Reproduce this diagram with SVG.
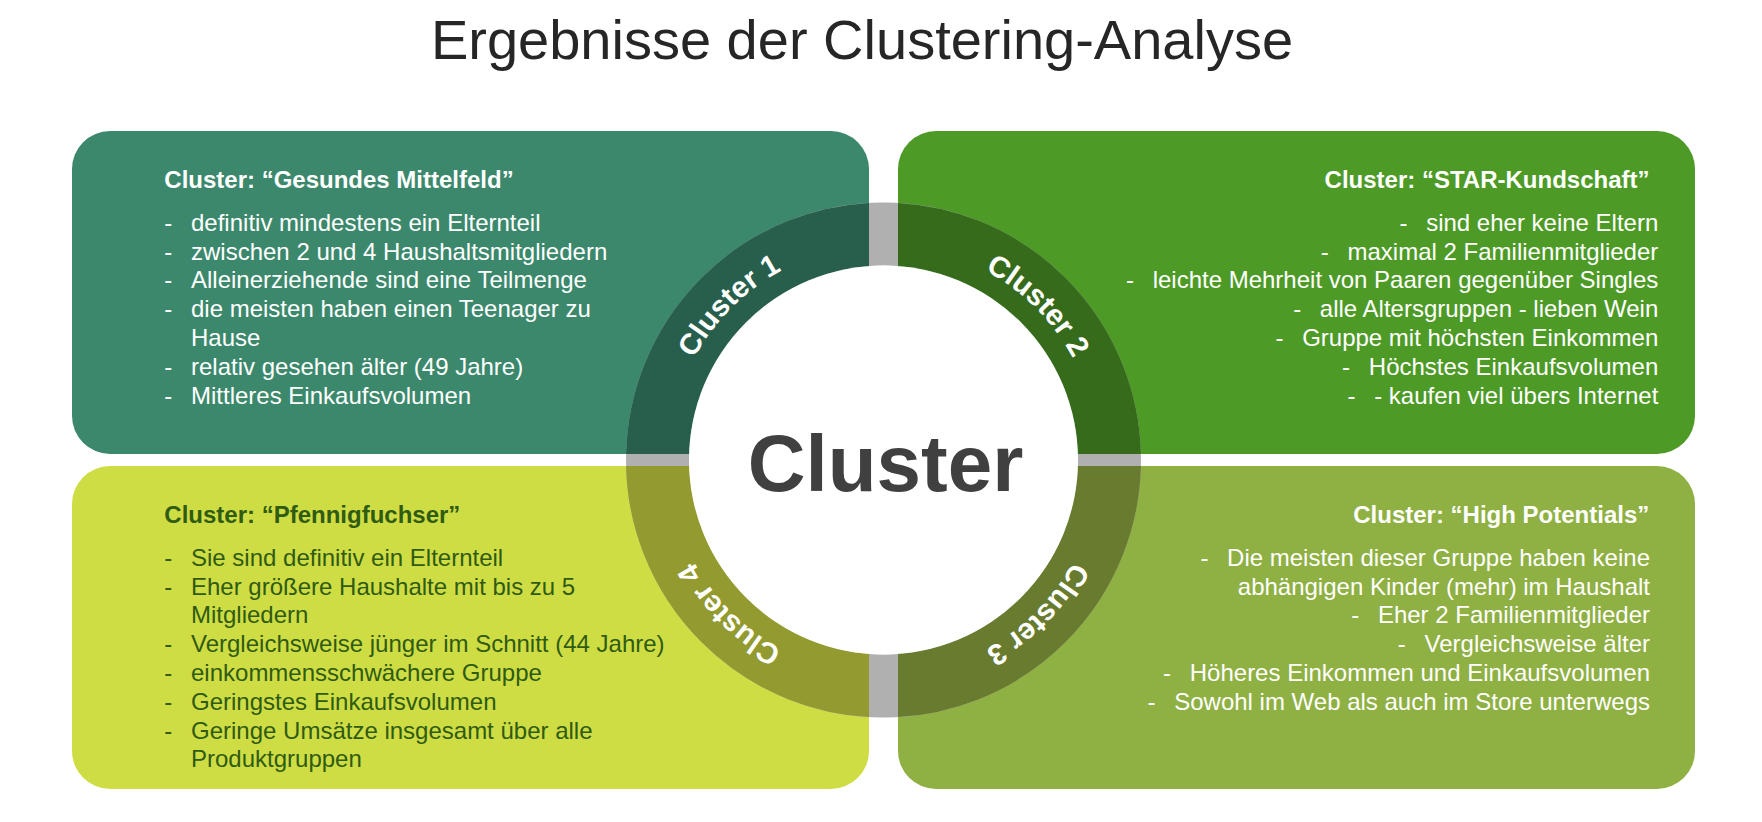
<svg xmlns="http://www.w3.org/2000/svg" xmlns:xlink="http://www.w3.org/1999/xlink" width="1762" height="822" viewBox="0 0 1762 822">
<style>
  text { font-family: "Liberation Sans", Arial, sans-serif; }
  .title { font-size: 56px; fill: #262626; }
  .head { font-size: 24px; font-weight: bold; }
  .item { font-size: 24px; }
  .light { fill: #ffffff; }
  .dark { fill: #2f5b12; }
  .ringlbl { font-size: 29.5px; font-weight: bold; fill: #ffffff; }
  .center { font-size: 80px; font-weight: bold; fill: #404040; }
</style>
<defs>
  <clipPath id="qTL"><rect x="0" y="0" width="869" height="454"/></clipPath>
  <clipPath id="qTR"><rect x="898" y="0" width="864" height="454"/></clipPath>
  <clipPath id="qBL"><rect x="0" y="466" width="869" height="356"/></clipPath>
  <clipPath id="qBR"><rect x="898" y="466" width="864" height="356"/></clipPath>
  <path id="lblcircle" d="M 668.5 460 A 215 215 0 1 1 1098.5 460 A 215 215 0 1 1 668.5 460"/>
</defs>

<rect x="0" y="0" width="1762" height="822" fill="#ffffff"/>

<text class="title" x="862" y="59" text-anchor="middle">Ergebnisse der Clustering-Analyse</text>

<g id="box-cluster1">
  <rect x="72" y="131" width="797" height="323" rx="38" fill="#3c886c"/>
</g>
<g id="box-cluster2">
  <rect x="898" y="131" width="797" height="323" rx="38" fill="#4e9a27"/>
</g>
<g id="box-cluster4">
  <rect x="72" y="466" width="797" height="323" rx="38" fill="#cfdd45"/>
</g>
<g id="box-cluster3">
  <rect x="898" y="466" width="797" height="323" rx="38" fill="#8fb043"/>
</g>

<g id="ring">
  <circle cx="883.5" cy="460" r="226" fill="none" stroke="#b0b0b0" stroke-width="63"/>
  <circle cx="883.5" cy="460" r="226" fill="none" stroke="#285f4c" stroke-width="63" clip-path="url(#qTL)"/>
  <circle cx="883.5" cy="460" r="226" fill="none" stroke="#376b1c" stroke-width="63" clip-path="url(#qTR)"/>
  <circle cx="883.5" cy="460" r="226" fill="none" stroke="#929a30" stroke-width="63" clip-path="url(#qBL)"/>
  <circle cx="883.5" cy="460" r="226" fill="none" stroke="#687b2e" stroke-width="63" clip-path="url(#qBR)"/>
  <text class="ringlbl" text-anchor="middle"><textPath xlink:href="#lblcircle" href="#lblcircle" startOffset="12.5%">Cluster 1</textPath></text>
  <text class="ringlbl" text-anchor="middle"><textPath xlink:href="#lblcircle" href="#lblcircle" startOffset="37.5%">Cluster 2</textPath></text>
  <text class="ringlbl" text-anchor="middle"><textPath xlink:href="#lblcircle" href="#lblcircle" startOffset="62.5%">Cluster 3</textPath></text>
  <text class="ringlbl" text-anchor="middle"><textPath xlink:href="#lblcircle" href="#lblcircle" startOffset="87.5%">Cluster 4</textPath></text>
</g>

<g id="center">
  <circle cx="883.5" cy="460" r="194.5" fill="#ffffff"/>
  <text class="center" x="885.5" y="490.5" text-anchor="middle">Cluster</text>
</g>

<g id="text-cluster1" class="light">
  <text class="head light" x="164.3" y="187.7">Cluster: “Gesundes Mittelfeld”</text>
  <text class="item light" x="164.3" y="230.7">-<tspan x="191">definitiv mindestens ein Elternteil</tspan></text>
  <text class="item light" x="164.3" y="259.5">-<tspan x="191">zwischen 2 und 4 Haushaltsmitgliedern</tspan></text>
  <text class="item light" x="164.3" y="288.3">-<tspan x="191">Alleinerziehende sind eine Teilmenge</tspan></text>
  <text class="item light" x="164.3" y="317.1">-<tspan x="191">die meisten haben einen Teenager zu</tspan></text>
  <text class="item light" x="191" y="345.9">Hause</text>
  <text class="item light" x="164.3" y="374.7">-<tspan x="191">relativ gesehen älter (49 Jahre)</tspan></text>
  <text class="item light" x="164.3" y="403.5">-<tspan x="191">Mittleres Einkaufsvolumen</tspan></text>
</g>

<g id="text-cluster2">
  <text class="head light" x="1649.5" y="187.7" text-anchor="end">Cluster: “STAR-Kundschaft”</text>
  <text class="item light" x="1658.3" y="230.7" text-anchor="end">-<tspan dx="18.7">sind eher keine Eltern</tspan></text>
  <text class="item light" x="1658.3" y="259.5" text-anchor="end">-<tspan dx="18.7">maximal 2 Familienmitglieder</tspan></text>
  <text class="item light" x="1658.3" y="288.3" text-anchor="end">-<tspan dx="18.7">leichte Mehrheit von Paaren gegenüber Singles</tspan></text>
  <text class="item light" x="1658.3" y="317.1" text-anchor="end">-<tspan dx="18.7">alle Altersgruppen - lieben Wein</tspan></text>
  <text class="item light" x="1658.3" y="345.9" text-anchor="end">-<tspan dx="18.7">Gruppe mit höchsten Einkommen</tspan></text>
  <text class="item light" x="1658.3" y="374.7" text-anchor="end">-<tspan dx="18.7">Höchstes Einkaufsvolumen</tspan></text>
  <text class="item light" x="1658.3" y="403.5" text-anchor="end">-<tspan dx="18.7">- kaufen viel übers Internet</tspan></text>
</g>

<g id="text-cluster4">
  <text class="head dark" x="164.3" y="522.7">Cluster: “Pfennigfuchser”</text>
  <text class="item dark" x="164.3" y="565.7">-<tspan x="191">Sie sind definitiv ein Elternteil</tspan></text>
  <text class="item dark" x="164.3" y="594.5">-<tspan x="191">Eher größere Haushalte mit bis zu 5</tspan></text>
  <text class="item dark" x="191" y="623.3">Mitgliedern</text>
  <text class="item dark" x="164.3" y="652.1">-<tspan x="191">Vergleichsweise jünger im Schnitt (44 Jahre)</tspan></text>
  <text class="item dark" x="164.3" y="680.9">-<tspan x="191">einkommensschwächere Gruppe</tspan></text>
  <text class="item dark" x="164.3" y="709.7">-<tspan x="191">Geringstes Einkaufsvolumen</tspan></text>
  <text class="item dark" x="164.3" y="738.5">-<tspan x="191">Geringe Umsätze insgesamt über alle</tspan></text>
  <text class="item dark" x="191" y="767.3">Produktgruppen</text>
</g>

<g id="text-cluster3">
  <text class="head light" x="1649.3" y="522.7" text-anchor="end">Cluster: “High Potentials”</text>
  <text class="item light" x="1650" y="565.7" text-anchor="end">-<tspan dx="18.7">Die meisten dieser Gruppe haben keine</tspan></text>
  <text class="item light" x="1650" y="594.5" text-anchor="end">abhängigen Kinder (mehr) im Haushalt</text>
  <text class="item light" x="1650" y="623.3" text-anchor="end">-<tspan dx="18.7">Eher 2 Familienmitglieder</tspan></text>
  <text class="item light" x="1650" y="652.1" text-anchor="end">-<tspan dx="18.7">Vergleichsweise älter</tspan></text>
  <text class="item light" x="1650" y="680.9" text-anchor="end">-<tspan dx="18.7">Höheres Einkommen und Einkaufsvolumen</tspan></text>
  <text class="item light" x="1650" y="709.7" text-anchor="end">-<tspan dx="18.7">Sowohl im Web als auch im Store unterwegs</tspan></text>
</g>
</svg>
